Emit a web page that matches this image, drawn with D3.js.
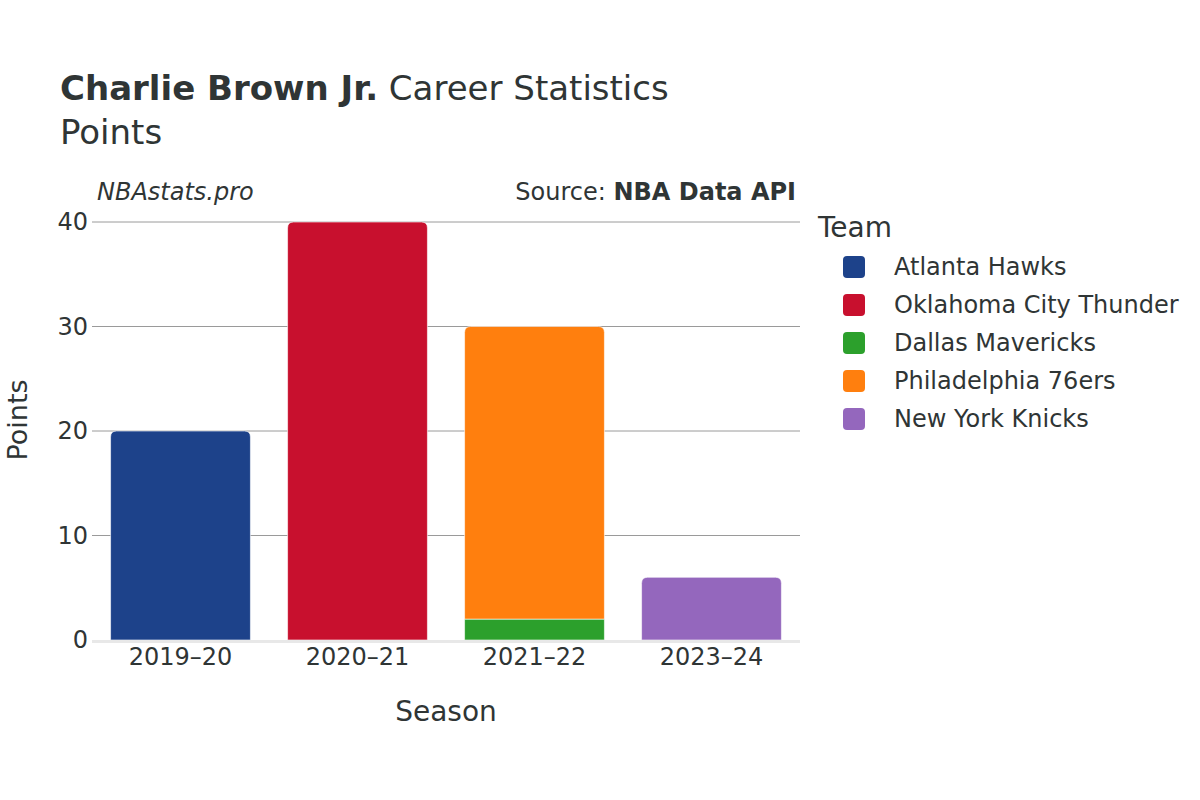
<!DOCTYPE html>
<html>
<head>
<meta charset="utf-8">
<script src="https://cdn.jsdelivr.net/npm/d3@7"></script>
<style>
  body { margin: 0; background: #fff; }
  svg { display: block; }
</style>
</head>
<body>
<svg id="chart" width="1200" height="800"></svg>
<script>
// data
const seasons = ["2019–20", "2020–21", "2021–22", "2023–24"];
const teams = ["Atlanta Hawks", "Oklahoma City Thunder", "Dallas Mavericks", "Philadelphia 76ers", "New York Knicks"];
const teamColors = ["#1d428a", "#c8102e", "#2ca02c", "#ff7f0e", "#9467bd"];
// points per season for each team, stacked in this order
const hawksPts = [20, 0, 0, 0];
const thunderPts = [0, 40, 0, 0];
const mavsPts = [0, 0, 2, 0];
const sixersPts = [0, 0, 28, 0];
const knicksPts = [0, 0, 0, 6];
const yTicks = [0, 10, 20, 30, 40];

const seriesValues = [hawksPts, thunderPts, mavsPts, sixersPts, knicksPts];
const rows = seasons.map((s, i) => {
  const r = { season: s };
  teams.forEach((t, j) => { r[t] = seriesValues[j][i]; });
  return r;
});

const margin = { top: 222, right: 400, bottom: 160, left: 92 };
const width = 1200, height = 800;
const textColor = "#2f3535";
const font = "'DejaVu Sans', sans-serif";

const svg = d3.select("#chart");

const x = d3.scaleBand()
  .domain(seasons)
  .range([margin.left, width - margin.right])
  .paddingInner(0.21)
  .paddingOuter(0.105);

const y = d3.scaleLinear()
  .domain([0, 40])
  .range([height - margin.bottom, margin.top]);

const color = d3.scaleOrdinal().domain(teams).range(teamColors);

// gridlines
svg.append("g")
  .selectAll("line")
  .data(yTicks.filter(d => d > 0))
  .join("line")
  .attr("x1", margin.left)
  .attr("x2", width - margin.right)
  .attr("y1", d => y(d))
  .attr("y2", d => y(d))
  .attr("stroke", "#9a9a9a")
  .attr("stroke-width", 1);

// stacked bars
const stack = d3.stack().keys(teams)(rows);
const r = 6;

function barPath(x0, x1, y0, y1, rounded) {
  if (!rounded) return `M${x0},${y0}H${x1}V${y1}H${x0}Z`;
  return `M${x0},${y0}V${y1 + r}Q${x0},${y1} ${x0 + r},${y1}H${x1 - r}Q${x1},${y1} ${x1},${y1 + r}V${y0}Z`;
}

// top segment per season gets the rounded corners
const topKey = seasons.map((s, i) => {
  let k = null;
  stack.forEach(layer => { if (layer[i][1] - layer[i][0] > 0) k = layer.key; });
  return k;
});

svg.append("g")
  .selectAll("g")
  .data(stack)
  .join("g")
  .attr("fill", d => color(d.key))
  .each(function(layer) {
    d3.select(this).selectAll("path")
      .data(layer.map((d, i) => ({ d, i })).filter(o => o.d[1] - o.d[0] > 0))
      .join("path")
      .attr("d", o => barPath(
        x(seasons[o.i]), x(seasons[o.i]) + x.bandwidth(),
        y(o.d[0]), y(o.d[1]),
        topKey[o.i] === layer.key))
      .attr("stroke", "#fff")
      .attr("stroke-width", 0.6);
  });

// zero line
svg.append("line")
  .attr("x1", margin.left)
  .attr("x2", width - margin.right)
  .attr("y1", y(0) + 1.5)
  .attr("y2", y(0) + 1.5)
  .attr("stroke", "#e8e8e8")
  .attr("stroke-width", 3);

// y axis
const yAxis = g => g
  .attr("transform", "translate(" + margin.left + ", 0)")
  .call(d3.axisLeft(y).tickValues(yTicks).tickSize(0).tickPadding(4))
  .call(g => g.select(".domain").remove())
  .call(g => g.selectAll("text")
    .attr("font-family", font)
    .attr("font-size", 24)
    .attr("fill", textColor));
svg.append("g").call(yAxis);

// x axis
const xAxis = g => g
  .attr("transform", "translate(0, " + (height - margin.bottom) + ")")
  .call(d3.axisBottom(x).tickSize(0).tickPadding(8))
  .call(g => g.select(".domain").remove())
  .call(g => g.selectAll("text")
    .attr("font-family", font)
    .attr("font-size", 24)
    .attr("fill", textColor));
svg.append("g").call(xAxis);

// axis titles
svg.append("text")
  .attr("x", (margin.left + width - margin.right) / 2)
  .attr("y", 721)
  .attr("text-anchor", "middle")
  .attr("font-family", font)
  .attr("font-size", 28)
  .attr("fill", textColor)
  .text("Season");

svg.append("text")
  .attr("transform", "translate(27, 420) rotate(-90)")
  .attr("text-anchor", "middle")
  .attr("font-family", font)
  .attr("font-size", 27)
  .attr("fill", textColor)
  .text("Points");

// title
const title = svg.append("text")
  .attr("x", 60)
  .attr("y", 100)
  .attr("font-family", font)
  .attr("font-size", 34)
  .attr("fill", textColor);
title.append("tspan").attr("font-weight", "bold").text("Charlie Brown Jr.");
title.append("tspan").text(" Career Statistics");

svg.append("text")
  .attr("x", 60)
  .attr("y", 144)
  .attr("font-family", font)
  .attr("font-size", 34)
  .attr("fill", textColor)
  .text("Points");

svg.append("text")
  .attr("x", 97)
  .attr("y", 200)
  .attr("font-family", font)
  .attr("font-style", "italic")
  .attr("font-size", 24)
  .attr("fill", textColor)
  .text("NBAstats.pro");

const src = svg.append("text")
  .attr("x", 796)
  .attr("y", 200)
  .attr("text-anchor", "end")
  .attr("font-family", font)
  .attr("font-size", 24)
  .attr("fill", textColor);
src.append("tspan").text("Source: ");
src.append("tspan").attr("font-weight", "bold").text("NBA Data API");

// legend
svg.append("text")
  .attr("x", 818)
  .attr("y", 237)
  .attr("font-family", font)
  .attr("font-size", 28)
  .attr("fill", textColor)
  .text("Team");

const legend = svg.append("g")
  .selectAll("g")
  .data(teams)
  .join("g")
  .attr("transform", (d, i) => "translate(843, " + (267 + i * 38) + ")");

legend.append("rect")
  .attr("x", 0)
  .attr("y", -11)
  .attr("width", 22)
  .attr("height", 22)
  .attr("rx", 4)
  .attr("fill", d => color(d));

legend.append("text")
  .attr("x", 51)
  .attr("y", 0)
  .attr("dy", "0.35em")
  .attr("font-family", font)
  .attr("font-size", 24)
  .attr("fill", textColor)
  .text(d => d);
</script>
</body>
</html>
